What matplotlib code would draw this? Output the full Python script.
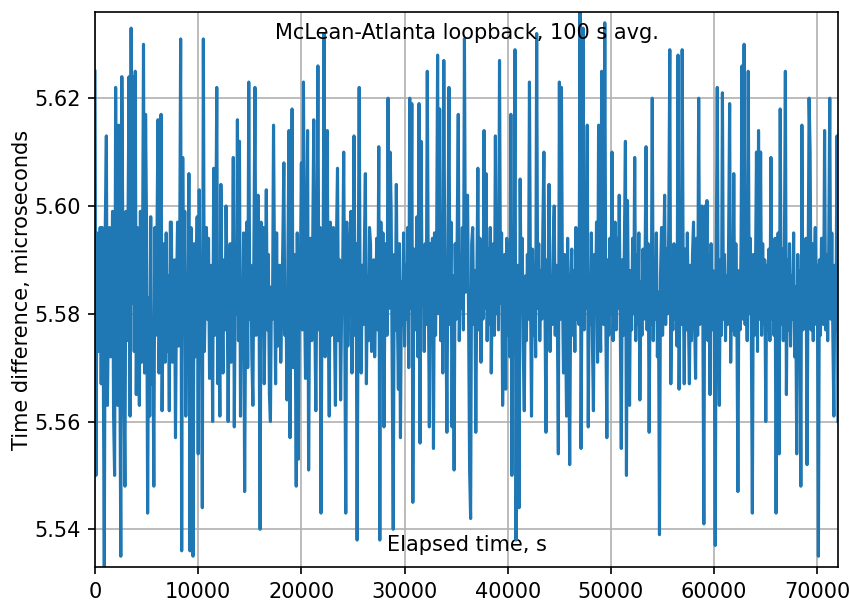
import numpy as np
import matplotlib
matplotlib.use("Agg")
import matplotlib.pyplot as plt

# 100 s averages of the McLean-Atlanta loopback time difference,
# stored as deviations from 5580 ns (one value per 100 s interval)
base_ns = 5580
step_s = 100
deviation_ns = [
    45, -30, 15, -7, 3, 16, -13, 16, -8, -47,
    17, 33, -17, -1, 16, -8, 4, 19, -19, -30,
    42, 5, -17, 35, -3, -45, 44, 13, -11, -32,
    19, -5, 17, 44, -19, 53, 2, 44, -7, 45,
    -15, 16, 0, -17, 19, -9, 7, 50, -11, 37,
    15, -37, 3, -19, 18, -13, -2, -32, 16, -4,
    13, 36, -11, 5, 37, -18, 1, 13, -9, 15,
    -7, 7, -18, 17, 17, -9, 1, 10, -23, 4,
    17, -6, 8, 51, -44, 29, -1, 19, -19, 6,
    -3, 26, -44, 16, 0, -45, 13, -8, 2, 18,
    -26, 23, -2, 7, -36, 51, -7, 4, 16, -1,
    14, -12, 1, 9, -20, 27, -4, 12, 42, -13,
    0, -19, 24, 3, -11, 10, -3, 20, 6, -20,
    2, 13, -9, -2, 29, -21, 9, 0, 36, -5,
    32, -19, 6, -3, 15, -33, 1, 17, -10, 43,
    -1, 9, -8, -17, 14, 42, -4, 7, 22, 1,
    -40, 17, -2, 16, -13, 4, 23, -3, 11, -15,
    -20, 5, -1, 35, 7, -13, 15, -6, 3, 9,
    -9, 1, 13, 28, -4, 4, -16, 12, 34, -23,
    7, 38, -10, 11, -2, -32, 15, -27, 0, 8,
    28, -3, 43, 4, -12, 13, 34, -29, 5, 14,
    -5, 14, 36, -1, -18, 8, 46, -3, 16, -37,
    3, 9, 52, -8, 12, 34, 0, -19, 17, -4,
    6, 16, -2, -17, 14, 27, -5, 10, -16, 1,
    8, 30, -1, -37, 17, -6, 3, 11, 19, -11,
    5, 33, -4, 13, -42, 4, 42, 0, -11, 9,
    -2, 12, 26, -13, 7, -5, 16, 13, -7, 4,
    10, -8, 2, 14, -3, 31, -42, 17, -1, 15,
    -21, 4, 13, -4, 40, 1, 30, 19, -9, -40,
    11, -3, 24, 0, -14, 13, -23, 6, -2, 15,
    -6, 9, -1, 16, -10, 40, 1, 39, -35, 12,
    -3, 8, 18, -8, 39, -24, 32, 3, 10, -7,
    13, -2, 45, 5, -21, 13, -1, 14, -25, 15,
    -4, 11, 48, 0, 38, -5, 15, -11, 47, 7,
    1, -22, 12, 42, -2, 17, -21, 7, -29, 13,
    -1, 15, 37, -5, 10, 1, 16, -3, 51, 4,
    9, 22, 0, -29, -38, 13, 16, -2, 8, -22,
    5, 27, -3, 14, -9, 7, -1, 34, 1, 26,
    -5, 12, -2, 16, -11, 5, 13, -4, 33, 0,
    9, -3, 47, 2, 15, -17, -1, 11, -14, 14,
    -4, 13, -8, 37, -30, 10, -2, 49, -42, 9,
    -3, -36, 25, 1, 14, -7, -18, 7, -5, 11,
    -1, 43, 5, -19, 12, -4, 9, -8, 52, 1,
    13, -5, 8, -1, 16, 30, 2, -22, 10, -3,
    24, -7, 7, -2, 13, 20, -4, 9, 0, -26,
    43, -1, 42, 4, -11, 11, -3, -19, 14, -5,
    -28, 4, 12, -4, 8, -7, 16, -1, 15, -2,
    56, -25, 9, 53, -3, 13, 1, 35, -21, 7,
    -2, 15, -5, -18, 11, 0, 17, -9, 35, 3,
    -7, 45, 8, -2, 54, -1, -23, 10, -4, 14,
    0, 30, -5, 9, 17, -3, 14, 1, 22, -2,
    -25, 10, -4, 13, 32, -30, 21, -1, -17, 8,
    -3, 14, 0, 29, -5, 11, -2, 15, -16, 6,
    -4, 12, -1, 9, 31, -3, 13, -22, 7, -2,
    40, -5, 10, -1, 15, -8, 4, -41, 7, 16,
    -4, 9, 22, -2, 12, 0, 16, 49, -13, 5,
    -3, 13, -1, 10, -6, 48, -14, 8, -2, 49,
    7, -13, 12, -3, 15, 0, -13, 9, -5, 11,
    17, -1, -12, 14, -4, 40, -2, 10, 20, 1,
    -39, 20, -1, 21, -5, 11, -15, 13, -3, 8,
    1, -43, 9, 42, -2, -17, 10, -4, 41, -1,
    11, -5, 7, -2, 14, 39, -9, 9, -3, 26,
    -4, 13, 0, -33, 8, -3, 12, 46, -1, 50,
    -2, 10, -5, 45, 0, 14, -3, -37, 11, -4,
    7, 30, -7, 34, -1, 30, -4, 13, -2, 10,
    -20, 9, -3, 12, -5, 29, -1, 11, -4, 14,
    -37, 7, 15, -26, 38, -2, 12, -5, 9, 45,
    -15, 10, -3, 13, -6, 7, -1, 15, -8, 5,
    -26, 11, -4, 8, -32, 35, -3, 12, -1, 14,
    -28, 7, 40, 30, -3, 13, -5, 8, 16, -2,
    9, -45, 10, -4, 14, 14, -2, 34, -3, 11,
    -5, 12, 40, -1, 15, -4, -19, 9, -3, 33,
    -20,
]

title = "McLean-Atlanta loopback, 100 s avg."
x_label = "Elapsed time, s"
y_label = "Time difference, microseconds"

elapsed_s = np.arange(len(deviation_ns)) * step_s
diff_us = (base_ns + np.asarray(deviation_ns, dtype=float)) / 1000.0

fig = plt.figure(figsize=(851 / 150, 600 / 150), dpi=150)
ax = fig.add_axes([95 / 851, 33 / 600, 743 / 851, 555 / 600])

ax.plot(elapsed_s, diff_us, color="C0")
ax.margins(x=0, y=0)
ax.grid(True)

ax.set_title(title, fontsize=10, y=1.0, pad=-13)
ax.set_xlabel(x_label)
ax.xaxis.set_label_coords(0.5, 0.058)
ax.set_ylabel(y_label, labelpad=1)

fig.savefig("out.png", dpi=150)
